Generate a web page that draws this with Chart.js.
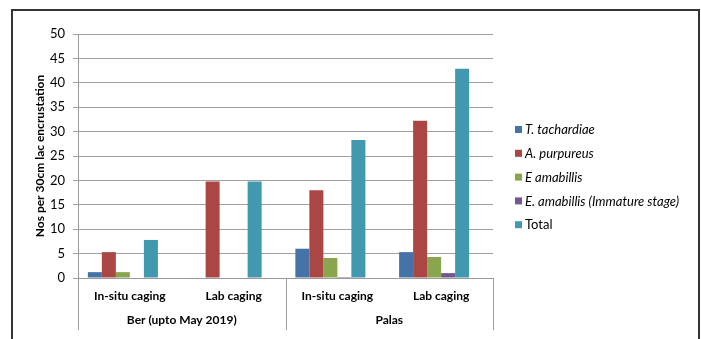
<!DOCTYPE html>
<html>
<head>
<meta charset="utf-8">
<script src="https://cdn.jsdelivr.net/npm/chart.js@4.4.1/dist/chart.umd.min.js"></script>
<style>
  html, body { margin: 0; padding: 0; background: #ffffff; }
  canvas { display: block; }
</style>
</head>
<body>
<canvas id="chart" width="701" height="339"></canvas>
<script>
// Sampling sites / caging method
const categories = ['In-situ caging', 'Lab caging', 'In-situ caging', 'Lab caging'];
const hostGroups = ['Ber (upto May 2019)', 'Palas'];
const categoriesPerGroup = 2;

// Numbers per 30 cm lac encrustation
const seriesNames = ['T. tachardiae', 'A. purpureus', 'E amabillis', 'E. amabillis (Immature stage)', 'Total'];
const tTachardiae = [1.2, 0, 6.0, 5.3];
const aPurpureus = [5.3, 19.8, 18.0, 32.2];
const eAmabillis = [1.2, 0, 4.1, 4.3];
const eAmabillisImmature = [0, 0, 0.2, 1.0];
const totalCount = [7.8, 19.8, 28.3, 42.9];

const yTicks = { min: 0, max: 50, step: 5 };
const seriesColors = ['#4572A7', '#AA4643', '#89A54E', '#71588F', '#4198AF'];
const italicSeries = [true, true, true, true, false];

const FONT = 'Lato, "Liberation Sans", sans-serif';
Chart.defaults.font.family = FONT;
Chart.defaults.color = '#000000';

const seriesData = [tTachardiae, aPurpureus, eAmabillis, eAmabillisImmature, totalCount];
const datasets = seriesData.map((values, i) => ({
  label: seriesNames[i],
  data: values,
  backgroundColor: seriesColors[i],
  borderWidth: 0,
  categoryPercentage: 0.81,
  barPercentage: 1.0
}));
// empty sixth slot keeps the cluster spacing of the original workbook
datasets.push({ label: '', data: categories.map(() => null), backgroundColor: 'rgba(0,0,0,0)',
  categoryPercentage: 0.81, barPercentage: 1.0 });

const decorations = {
  id: 'decorations',
  afterDraw(chart) {
    const ctx = chart.ctx;
    const area = chart.chartArea;
    const xs = chart.scales.x;
    ctx.save();

    // group separators and host labels below the category axis
    const bounds = [area.left];
    for (let g = 1; g < hostGroups.length; g++) {
      const a = xs.getPixelForValue(g * categoriesPerGroup - 1);
      const b = xs.getPixelForValue(g * categoriesPerGroup);
      bounds.push((a + b) / 2);
    }
    bounds.push(area.right);
    ctx.strokeStyle = '#9a9a9a';
    ctx.lineWidth = 1;
    bounds.forEach(bx => {
      const px = Math.round(bx) + 0.5;
      ctx.beginPath();
      ctx.moveTo(px, area.bottom);
      ctx.lineTo(px, 330);
      ctx.stroke();
    });
    ctx.fillStyle = '#000';
    ctx.font = 'bold 12px ' + FONT;
    ctx.textAlign = 'center';
    ctx.textBaseline = 'middle';
    hostGroups.forEach((name, g) => {
      ctx.fillText(name, (bounds[g] + bounds[g + 1]) / 2, 320);
    });

    // legend
    const lx = 515, ly0 = 130, step = 23.8;
    seriesNames.forEach((name, i) => {
      const y = ly0 + i * step;
      ctx.fillStyle = seriesColors[i];
      ctx.fillRect(lx, y - 4, 7, 7);
      ctx.fillStyle = '#000';
      ctx.textAlign = 'left';
      ctx.font = (italicSeries[i] ? 'italic ' : '') + '13px ' + FONT;
      ctx.fillText(name, lx + 10, y);
    });

    // outer frame
    ctx.strokeStyle = '#333333';
    ctx.lineWidth = 2;
    ctx.beginPath();
    ctx.moveTo(12, 345);
    ctx.lineTo(12, 10);
    ctx.lineTo(699, 10);
    ctx.lineTo(699, 345);
    ctx.stroke();
    ctx.restore();
  }
};

new Chart(document.getElementById('chart'), {
  type: 'bar',
  data: { labels: categories, datasets },
  options: {
    responsive: false,
    animation: false,
    layout: { padding: { left: 0, top: 34, right: 208, bottom: 0 } },
    plugins: { legend: { display: false }, tooltip: { enabled: false } },
    scales: {
      x: {
        grid: { display: false },
        border: { display: true, color: '#9a9a9a' },
        ticks: { font: { size: 12, weight: 'bold' }, padding: 3, maxRotation: 0 },
        afterFit(scale) { scale.height = 61; }
      },
      y: {
        min: yTicks.min,
        max: yTicks.max,
        ticks: { stepSize: yTicks.step, font: { size: 13 }, padding: 8 },
        grid: { color: '#a0a0a0', tickLength: 5 },
        border: { color: '#9a9a9a' },
        title: {
          display: true,
          text: 'Nos per 30cm lac encrustation',
          font: { size: 12, weight: 'bold' },
          padding: { top: 33, bottom: 0 }
        },
        afterFit(scale) { scale.width = 78; }
      }
    }
  },
  plugins: [decorations]
});
</script>
</body>
</html>
